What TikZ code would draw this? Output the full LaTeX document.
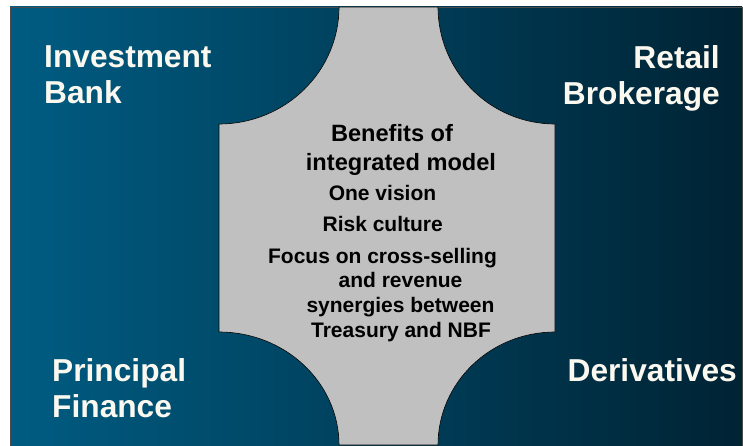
\documentclass[tikz,border=0pt]{standalone}
\usepackage{fontspec}
\setmainfont{Liberation Sans}
\begin{document}
\begin{tikzpicture}[x=1pt,y=1pt,
  quadlabel/.style={inner sep=0pt, text=labelcream,
    font=\bfseries\fontsize{31.7}{36}\selectfont},
  headline/.style={inner sep=0pt, anchor=base, text=black,
    font=\bfseries\fontsize{23.6}{28}\selectfont},
  itemline/.style={inner sep=0pt, anchor=base, text=black,
    font=\bfseries\fontsize{21}{25}\selectfont}]
\definecolor{bluelight}{RGB}{0,92,130}
\definecolor{bluedark}{RGB}{0,35,52}
\definecolor{hubgray}{RGB}{192,192,192}
\definecolor{labelcream}{RGB}{251,248,240}
\useasboundingbox (0,0) rectangle (743,445);

% blue panel behind the four business lines
\shade[left color=bluelight, right color=bluedark] (10,-3) rectangle (742,438);
\draw[black!70, line width=0.8pt] (10,-3) -- (10,438) -- (742,438) -- (742,-3);

% grey hub carved out by the four rounded corners
\filldraw[fill=hubgray, draw=black, line width=0.6pt]
  (219,321) -- (219,113)
  arc[start angle=90, end angle=0, x radius=120, y radius=113]
  -- (438,0)
  arc[start angle=180, end angle=90, x radius=117, y radius=113]
  -- (555,321)
  arc[start angle=270, end angle=180, x radius=117, y radius=117]
  -- (339,438)
  arc[start angle=0, end angle=-90, x radius=120, y radius=117]
  -- cycle;

% business lines
\node[quadlabel, anchor=north west, align=left] (ib) at (44,400) {Investment\\Bank};
\node[quadlabel, anchor=north east, align=right] (rb) at (720,400) {Retail\\Brokerage};
\node[quadlabel, anchor=north west, align=left] (pf) at (52,86.7) {Principal\\Finance};
\node[quadlabel, anchor=north east, align=right] (dv) at (737,86.7) {Derivatives};

% benefits in the hub
\node[headline] (h1) at (392,303.3) {Benefits of};
\node[headline] (h2) at (401,275) {integrated model};
\node[itemline] (i1) at (382.5,244.3) {One vision};
\node[itemline] (i2) at (382.7,213.3) {Risk culture};
\node[itemline] (i3a) at (382.5,182) {Focus on cross-selling};
\node[itemline] (i3b) at (400.5,157.5) {and revenue};
\node[itemline] (i3c) at (400.5,132.5) {synergies between};
\node[itemline] (i3d) at (401,108) {Treasury and NBF};
\end{tikzpicture}
\end{document}
